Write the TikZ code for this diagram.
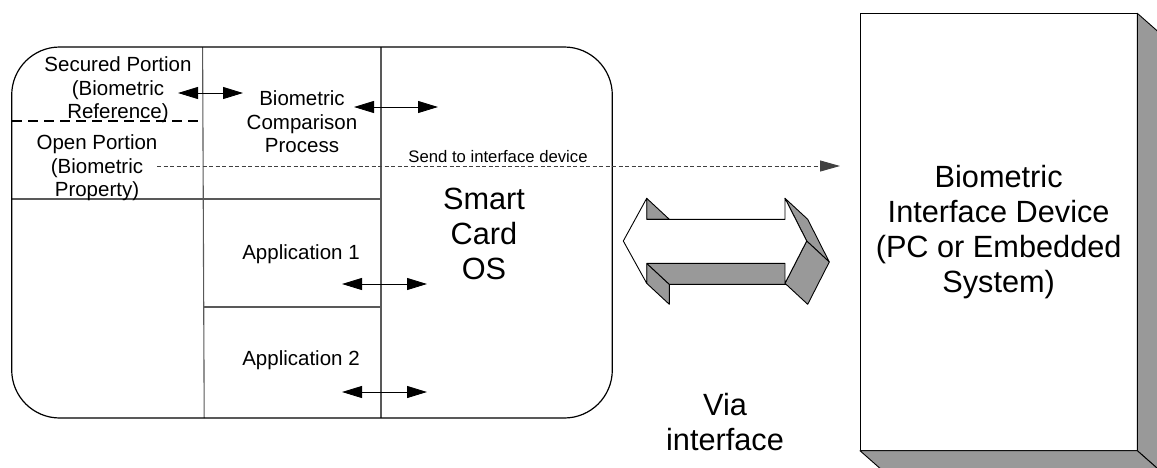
\documentclass[tikz,border=0pt]{standalone}
\usepackage{fontspec}
\setmainfont{Liberation Sans}
\usetikzlibrary{arrows.meta}

\tikzset{
  lbl/.style={inner sep=0pt, align=center, font=\fontsize{20.5}{23.5}\selectfont},
  bigl/.style={inner sep=0pt, align=center, font=\fontsize{30.7}{35}\selectfont},
  smalll/.style={inner sep=0pt, font=\fontsize{16.7}{19}\selectfont},
  divider/.style={draw=black!65, line width=1.1pt},
  dbl/.style={line width=0.9pt, {Triangle[length=20pt,width=12pt]}-{Triangle[length=20pt,width=12pt]}},
  sendarrow/.style={draw=black!75, line width=0.9pt, dash pattern=on 4pt off 2.5pt, -{Triangle[length=20pt,width=11pt]}},
  shade/.style={fill=black!40, draw=black, line width=0.9pt, line join=round},
  face/.style={fill=white, draw=black, line width=0.9pt, line join=round},
}

\begin{document}
\begin{tikzpicture}[x=1pt,y=-1pt]
\useasboundingbox (0,0) rectangle (1157,467);
\fill[white] (0,0) rectangle (1157,467);

% smart card compartments
\draw[divider] (202.6,47) -- (204.2,418);
\draw[divider] (381,47) -- (381,418);
\draw[divider] (12,199) -- (381,199);
\draw[divider] (203.5,307) -- (381,307);
\draw[line width=1.4pt, dash pattern=on 10pt off 6pt] (12,121) -- (201,121);

% smart card outline
\node[draw, line width=1.2pt, rounded corners=48pt, minimum width=600.6pt,
      minimum height=371pt, inner sep=0pt] (card) at (312,232.5) {};

% compartment labels
\node[lbl] (secured) at (118,90) {Secured Portion\\(Biometric\\Reference)};
\node[lbl] (open) at (97,168) {Open Portion\\(Biometric\\Property)};
\node[lbl] (compare) at (302,122) {Biometric\\Comparison\\Process};
\node[lbl] (app1) at (301,254) {Application 1};
\node[lbl] (app2) at (301,360) {Application 2};
\node[bigl] (os) at (484,234) {Smart\\Card\\OS};
\node[bigl] (via) at (725,422) {Via\\interface};
\node[smalll] (sendlbl) at (498,157) {Send to interface device};

% interface device box with depth faces
\node[draw, fill=white, line width=0.9pt, minimum width=277.3pt, minimum height=437.4pt,
      inner sep=0pt, bigl] (dev) at (998.65,232) {Biometric\\Interface Device\\(PC or Embedded\\System)};
\draw[shade] (1137.3,13.3) -- (1158.5,32) -- (1158.5,469.4) -- (1137.3,450.7) -- cycle;
\draw[shade] (860,450.7) -- (1137.3,450.7) -- (1158.5,469.4) -- (881.2,469.4) -- cycle;

% double-headed block arrow (3D)
\draw[shade] (646.7,198.3) -- (669.3,219.3) -- (646.7,219.3) -- cycle;
\draw[shade] (646.7,263.3) -- (646.7,283.3) -- (669.3,304.3) -- (669.3,284.3) -- cycle;
\draw[shade] (646.7,263.3) -- (785,263.3) -- (807.7,284.3) -- (669.3,284.3) -- cycle;
\draw[shade] (785,198.3) -- (806.7,241) -- (829.3,262) -- (807.7,219.3) -- cycle;
\draw[shade] (806.7,241) -- (785,283.3) -- (807.7,304.3) -- (829.3,262) -- cycle;
\draw[face] (623.3,241) -- (646.7,198.3) -- (646.7,219.3) -- (785,219.3) -- (785,198.3)
  -- (806.7,241) -- (785,283.3) -- (785,263.3) -- (646.7,263.3) -- (646.7,283.3) -- cycle;

% data flow arrows
\coordinate (s1) at (178,93);  \coordinate (s2) at (243,93);
\coordinate (c1) at (354,107); \coordinate (c2) at (438,107);
\coordinate (p1) at (342,284); \coordinate (p2) at (427,284);
\coordinate (q1) at (342,392); \coordinate (q2) at (427,392);
\coordinate (sendstart) at (157,166); \coordinate (sendend) at (840,166);
\draw[dbl] (s1) -- (s2);
\draw[dbl] (c1) -- (c2);
\draw[dbl] (p1) -- (p2);
\draw[dbl] (q1) -- (q2);
\draw[sendarrow] (sendstart) -- (sendend);
\end{tikzpicture}
\end{document}
